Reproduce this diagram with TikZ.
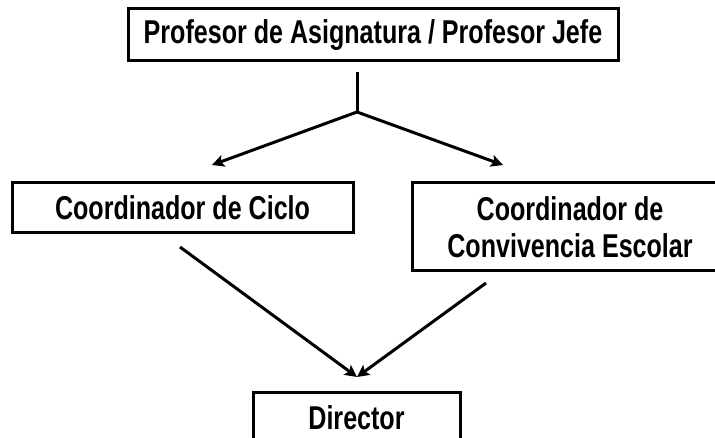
\documentclass[tikz,border=0pt]{standalone}
\usepackage{fontspec}
\newfontfamily\narrowfont[FakeStretch=0.76]{Liberation Sans}
\usetikzlibrary{arrows.meta}
\tikzset{
  box/.style={draw=black, line width=3pt, fill=white, inner sep=0pt, align=center,
    font=\narrowfont\bfseries\fontsize{33}{37}\selectfont},
  conn/.style={line width=3pt, draw=black},
  arr/.style={conn, -{Stealth[length=12pt,width=12pt,inset=2.5pt]}}
}
\begin{document}
\begin{tikzpicture}[x=1pt,y=-1pt]
\useasboundingbox (0,0) rectangle (715,438);
\clip (0,0) rectangle (715,438);
\fill[white] (0,0) rectangle (715,438);
\node[box, minimum width=490pt, minimum height=52pt] (prof) at (373,35) {Profesor de Asignatura / Profesor Jefe};
\node[box, minimum width=341pt, minimum height=50pt] (ciclo) at (182.5,208) {Coordinador de Ciclo};
\node[box, minimum width=316pt, minimum height=88pt] (conv) at (570,227) {Coordinador de\\Convivencia Escolar};
\node[box, minimum width=207pt, minimum height=52pt] (dir) at (356.5,418) {Director};
\coordinate (top) at (357,72);
\coordinate (split) at (357,112);
\coordinate (lt) at (212,165);
\coordinate (rt) at (503,165);
\coordinate (ls) at (180,247);
\coordinate (rs) at (486,283);
\coordinate (tip) at (357,377);
\draw[conn] (top) -- (split);
\draw[arr] (split) -- (lt);
\draw[arr] (split) -- (rt);
\draw[arr] (ls) -- (tip);
\draw[arr] (rs) -- (tip);
\end{tikzpicture}
\end{document}
